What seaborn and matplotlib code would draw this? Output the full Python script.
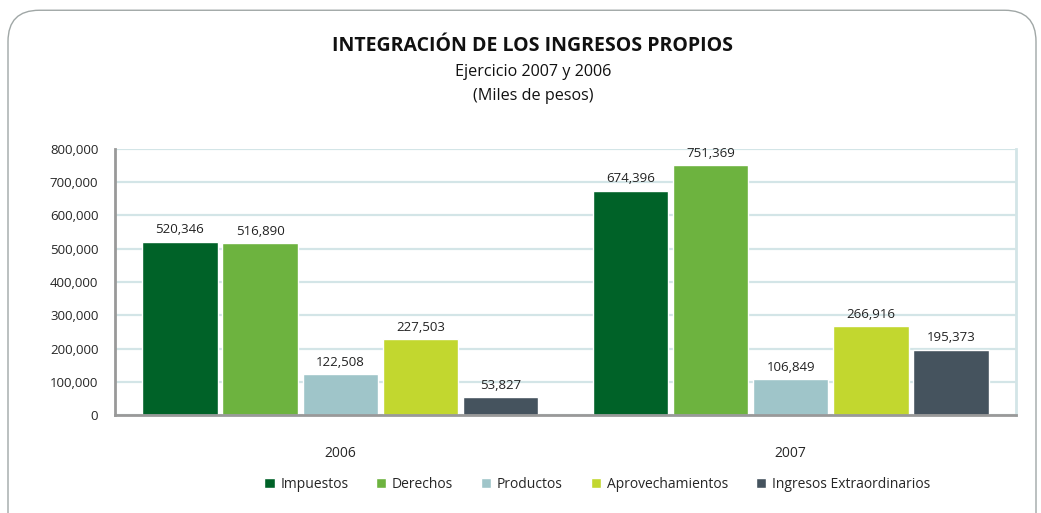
import matplotlib
matplotlib.use("Agg")
import matplotlib.pyplot as plt
from matplotlib.patches import FancyBboxPatch
from matplotlib.ticker import FuncFormatter
import seaborn as sns
import pandas as pd

years = ["2006", "2007"]
conceptos = ["Impuestos", "Derechos", "Productos", "Aprovechamientos",
             "Ingresos Extraordinarios"]
valores_2006 = [520346, 516890, 122508, 227503, 53827]
valores_2007 = [674396, 751369, 106849, 266916, 195373]
colores = ["#006228", "#6db33f", "#9fc5c9", "#c2d72f", "#45535e"]

df = pd.DataFrame({
    "anio": [years[0]] * 5 + [years[1]] * 5,
    "concepto": conceptos * 2,
    "valor": valores_2006 + valores_2007,
})

sns.set_style("white")
plt.rcParams["font.family"] = ["Open Sans", "DejaVu Sans"]

fig = plt.figure(figsize=(10.41, 5.13), dpi=100)
ax = fig.add_axes([0.1105, 0.191, 0.8655, 0.5186])

# rounded frame around the whole chart
frame = FancyBboxPatch((8 / 1041, -0.1), 1028 / 1041, 1.08,
                       boxstyle="round,pad=0,rounding_size=0.03",
                       transform=fig.transFigure, fill=False,
                       edgecolor="#a0a7a6", linewidth=1.0,
                       mutation_aspect=1041 / 513)
fig.patches.append(frame)

sns.barplot(data=df, x="anio", y="valor", hue="concepto",
            hue_order=conceptos, palette=colores, saturation=1,
            width=0.89, gap=0.06, ax=ax, legend=True)

for cont in ax.containers:
    ax.bar_label(cont, labels=[f"{v:,.0f}" for v in cont.datavalues],
                 padding=4, fontsize=9.5, color="#222222")

ax.set_ylim(0, 800000)
ax.set_xlim(-0.5, 1.5)
ax.set_yticks(range(0, 800001, 100000))
ax.yaxis.set_major_formatter(FuncFormatter(lambda v, p: f"{v:,.0f}"))
ax.grid(axis="y", color="#d3e5e7", linewidth=1.6)
ax.set_axisbelow(True)

ax.set_xticks([-0.5, 0.5, 1.5])
ax.set_xticklabels([])
ax.set_xticks([0, 1], minor=True)
ax.set_xticklabels(years, minor=True)
ax.tick_params(axis="x", which="major", length=6, width=1.6, color="#999999",
               direction="out")
ax.tick_params(axis="x", which="minor", length=0, pad=22, labelsize=10)
ax.tick_params(axis="y", length=6, width=1.6, color="#999999", labelsize=9.5,
               direction="out", pad=6)
ax.set_xlabel("")
ax.set_ylabel("")

for s in ["left", "bottom"]:
    ax.spines[s].set_color("#999999")
    ax.spines[s].set_linewidth(2)
ax.spines["right"].set_color("#d3e5e7")
ax.spines["right"].set_linewidth(2)
ax.spines["top"].set_visible(False)

ax.legend(loc="center", bbox_to_anchor=(0.535, -0.26), ncol=5, frameon=False,
          fontsize=10, handlelength=0.75, handleheight=0.75, handletextpad=0.4,
          columnspacing=2.0)

fig.text(0.512, 0.91, "INTEGRACIÓN DE LOS INGRESOS PROPIOS", ha="center",
         va="center", fontsize=14, fontweight="bold", color="#111111")
fig.text(0.512, 0.86, "Ejercicio 2007 y 2006", ha="center", va="center",
         fontsize=11.6, color="#111111")
fig.text(0.512, 0.812, "(Miles de pesos)", ha="center", va="center",
         fontsize=11.6, color="#111111")

fig.savefig("out.png", dpi=100)
